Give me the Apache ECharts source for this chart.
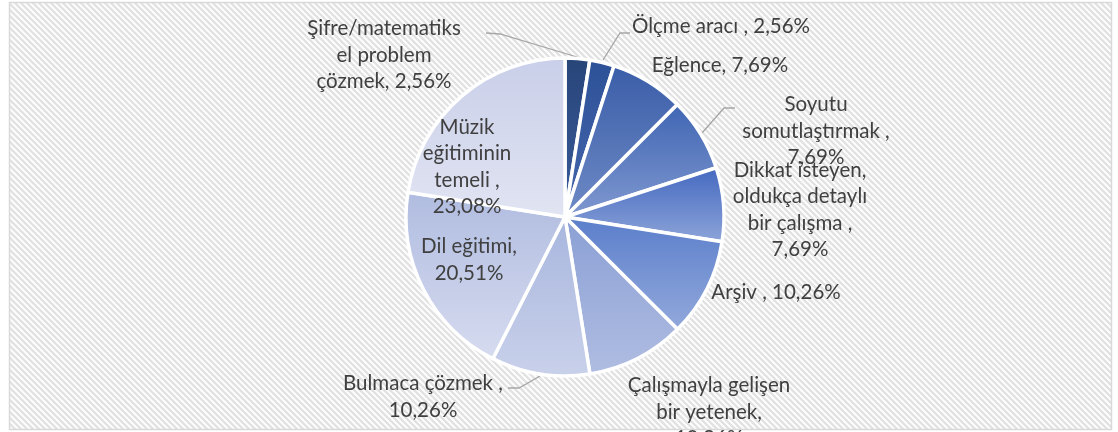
<!DOCTYPE html>
<html>
<head>
<meta charset="utf-8">
<script src="https://cdn.jsdelivr.net/npm/echarts@6/dist/echarts.min.js"></script>
<style>
	body { margin: 0; background: #fff; }
	#main { width: 1118px; height: 432px; }
</style>
</head>
<body>
<div id="main"></div>
<script>
// dilimler, saat yönünde, tepeden başlayarak
var categories = [
	'Şifre/matematiks\nel problem\nçözmek',
	'Ölçme aracı ',
	'Eğlence',
	'Soyutu\nsomutlaştırmak ',
	'Dikkat isteyen,\noldukça detaylı\nbir çalışma ',
	'Arşiv ',
	'Çalışmayla gelişen\nbir yetenek',
	'Bulmaca çözmek ',
	'Dil eğitimi',
	'Müzik\neğitiminin\ntemeli '
];
var values = [2.56, 2.56, 7.69, 7.69, 7.69, 10.26, 10.26, 10.26, 20.51, 23.08];

// dilim renkleri (üst -> alt gradyan)
var palette = [
	['#284579', '#3a5c9c'],
	['#2d5197', '#4566ad'],
	['#3a5da8', '#6f8bc6'],
	['#3f65b3', '#8199d0'],
	['#4468c0', '#8ea5d9'],
	['#5a7ecb', '#93a9db'],
	['#8a9fd4', '#b0bde2'],
	['#a8b6de', '#c9d1ea'],
	['#b0bce0', '#d6dbef'],
	['#c9cfe9', '#e1e4f2']
];

// etiket yerleri
var spots = [
	{ x: 384, y: 55, nl: false, line: [[577, 57], [500, 34], [486, 33]] },
	{ x: 721, y: 26, nl: false, line: [[603, 60], [620, 33], [630, 33]] },
	{ x: 720, y: 65, nl: false },
	{ x: 816, y: 131, nl: true, line: [[702, 133], [724, 108], [735, 108]] },
	{ x: 800, y: 210, nl: true },
	{ x: 776, y: 292, nl: false },
	{ x: 709, y: 412, nl: true },
	{ x: 423, y: 397, nl: true, line: [[540, 376], [519, 388], [508, 388]] },
	{ x: 469, y: 260, nl: true },
	{ x: 467, y: 167, nl: true }
];

/*arka plan deseni*/
function stripes() {
	var c = document.createElement('canvas');
	c.width = 6;
	c.height = 6;
	var ctx = c.getContext('2d');
	ctx.fillStyle = '#ffffff';
	ctx.fillRect(0, 0, 6, 6);
	ctx.strokeStyle = '#e2e2e2';
	ctx.lineWidth = 2.4;
	ctx.beginPath();
	ctx.moveTo(-1, -1); ctx.lineTo(7, 7);
	ctx.moveTo(-4, 2); ctx.lineTo(4, 10);
	ctx.moveTo(2, -4); ctx.lineTo(10, 4);
	ctx.stroke();
	return c;
}

var myChart = echarts.init(document.getElementById('main'));

var data = values.map(function(v, i) {
	return {
		name: categories[i],
		value: v,
		itemStyle: {
			color: new echarts.graphic.LinearGradient(0, 0, 0, 1, [
				{ offset: 0, color: palette[i][0] },
				{ offset: 1, color: palette[i][1] }
			])
		},
		labelLine: { show: !!spots[i].line }
	};
});

var option = {
	animation: false,
	graphic: [{
		type: 'rect',
		z: -10,
		shape: { x: 9.5, y: 2.5, width: 1102, height: 427 },
		style: {
			fill: { image: stripes(), repeat: 'repeat' },
			stroke: '#d9d9d9',
			lineWidth: 1.5
		}
	}],
	series: [{
		type: 'pie',
		center: [565, 217],
		radius: 159,
		startAngle: 90,
		clockwise: true,
		avoidLabelOverlap: false,
		itemStyle: { borderColor: '#fff', borderWidth: 3.5 },
		label: {
			show: true,
			position: 'outside',
			color: '#404040',
			fontFamily: 'Lato',
			fontSize: 20.5,
			lineHeight: 26.5,
			align: 'center',
			formatter: function(p) {
				var sep = spots[p.dataIndex].nl ? ',\n' : ', ';
				return p.name + sep + String(p.value.toFixed(2)).replace('.', ',') + '%';
			}
		},
		labelLine: {
			lineStyle: { color: '#a6a6a6', width: 1.3 }
		},
		labelLayout: function(params) {
			var s = spots[params.dataIndex];
			var r = { x: s.x, y: s.y, align: 'center', verticalAlign: 'middle' };
			if (s.line) r.labelLinePoints = s.line;
			return r;
		},
		data: data
	}]
};

myChart.setOption(option);
</script>
</body>
</html>
